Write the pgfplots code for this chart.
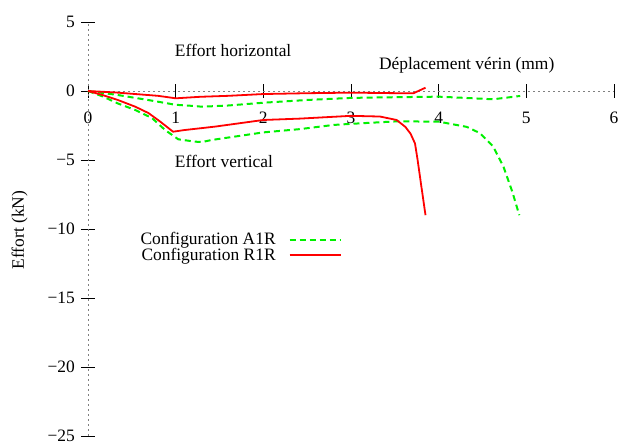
\documentclass[border=0pt]{standalone}
\usepackage{fontspec}
\setmainfont{Liberation Serif}
\usepackage{pgfplots}
\pgfplotsset{compat=1.18}

\definecolor{cA}{RGB}{0,240,0}
\definecolor{cR}{RGB}{255,0,0}

\begin{document}
\begin{tikzpicture}[font=\fontsize{17.5}{21}\selectfont]
\useasboundingbox (-88bp,-9bp) rectangle (534bp,436bp);
\begin{axis}[
  scale only axis, width=526bp, height=414bp,
  xmin=0, xmax=6, ymin=-25, ymax=5,
  axis lines=middle,
  axis line style={gray, dash pattern=on 2bp off 3bp, -},
  xtick={0,1,2,3,4,5,6},
  ytick={-25,-20,-15,-10,-5,0,5},
  yticklabels={−25,−20,−15,−10,−5,0,5},
  hide obscured x ticks=false, hide obscured y ticks=false,
  tick align=center, major tick length=14bp,
  tick style={black, line width=0.8bp, solid},
  /pgf/number format/assume math mode=true,
  xticklabel style={anchor=center, inner sep=0pt, yshift=-20bp},
  yticklabel style={anchor=east, inner sep=0pt, xshift=-6bp},
  clip=false,
  legend plot pos=right,
  legend cell align=right,
  legend image code/.code={\draw[#1] (0bp,0bp) -- (51bp,0bp);},
  legend style={draw=none, fill=none, at={(axis cs:2.93,-11.34)}, anchor=east,
    nodes={inner sep=1bp}, column sep=12bp, row sep=0pt,
    font=\fontsize{17.5}{21}\selectfont},
]

% configuration A1R
\addplot[cA, line width=2bp, dash pattern=on 6bp off 4bp] coordinates {
  (0,0) (0.34,-0.29) (0.73,-0.7) (1.0,-1.0) (1.22,-1.09) (1.3,-1.14)
  (1.6,-1.05) (2.0,-0.85) (2.5,-0.65) (3.0,-0.5) (3.5,-0.45) (4.0,-0.41)
  (4.3,-0.5) (4.62,-0.6) (4.93,-0.36)
};
\addlegendentry{Configuration A1R}
\addplot[cA, line width=2bp, dash pattern=on 6bp off 4bp, forget plot] coordinates {
  (0,0) (0.17,-0.4) (0.34,-0.9) (0.54,-1.38) (0.73,-1.96) (0.88,-2.83)
  (1.03,-3.5) (1.22,-3.67) (1.3,-3.7) (1.41,-3.55) (2.0,-3.0) (2.42,-2.76)
  (2.8,-2.46) (3.0,-2.38) (3.52,-2.2) (4.0,-2.22) (4.32,-2.6) (4.47,-3.05)
  (4.62,-4.0) (4.74,-5.5) (4.84,-7.3) (4.92,-9.0)
};

% configuration R1R
\addplot[cR, line width=1.8bp] coordinates {
  (0,0) (0.3,-0.1) (0.6,-0.25) (0.8,-0.35) (1.0,-0.53) (1.28,-0.42)
  (1.6,-0.35) (2.0,-0.22) (2.5,-0.16) (3.0,-0.12) (3.4,-0.15) (3.71,-0.17)
  (3.85,0.24)
};
\addlegendentry{Configuration R1R}
\addplot[cR, line width=1.8bp, forget plot] coordinates {
  (0,0) (0.17,-0.3) (0.34,-0.65) (0.54,-1.14) (0.69,-1.6) (0.82,-2.2)
  (0.97,-2.95) (1.1,-2.83) (1.45,-2.58) (2.0,-2.1) (2.42,-2.0) (3.0,-1.8)
  (3.33,-1.85) (3.52,-2.1) (3.62,-2.6) (3.68,-3.1) (3.73,-3.8) (3.76,-5.0)
  (3.8,-6.8) (3.85,-9.0)
};

\node[anchor=west, inner sep=0pt] at (axis cs:0.99,2.97) {Effort horizontal};
\node[anchor=west, inner sep=0pt] at (axis cs:0.99,-5.07) {Effort vertical};
\node[inner sep=0pt] at (axis cs:4.32,1.85) {Déplacement vérin (mm)};
\node[rotate=90, inner sep=0pt] at (axis cs:-0.78,-10.07) {Effort (kN)};
\end{axis}
\end{tikzpicture}
\end{document}
